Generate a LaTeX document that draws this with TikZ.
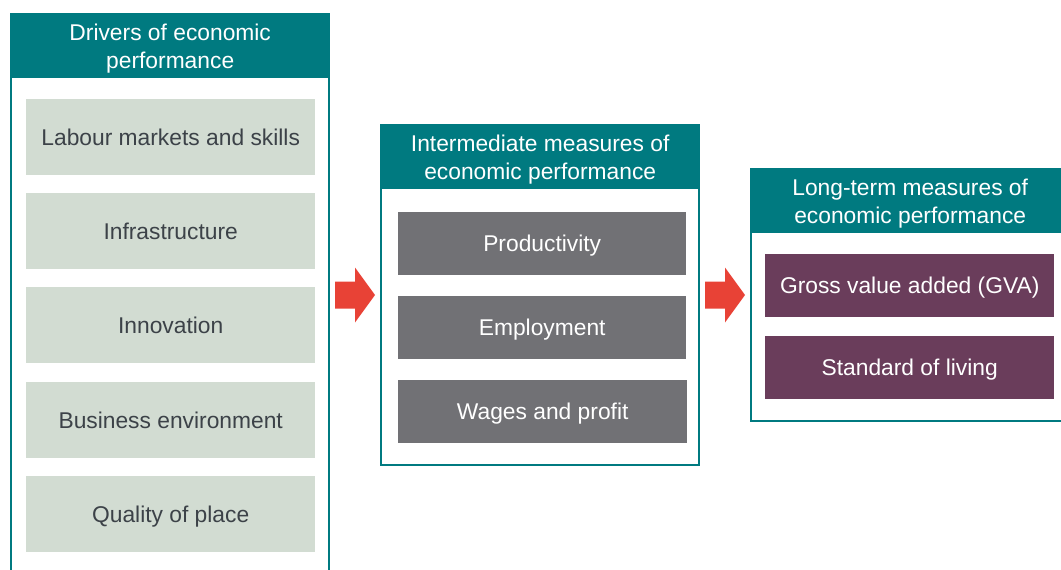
\documentclass[tikz,border=0pt]{standalone}
\usepackage{fontspec}
\setmainfont{Liberation Sans}
\definecolor{hdrteal}{HTML}{007A80}
\definecolor{sage}{HTML}{D2DCD2}
\definecolor{darktext}{HTML}{3C4248}
\definecolor{midgray}{HTML}{717175}
\definecolor{plum}{HTML}{6A3D5B}
\definecolor{arrowred}{HTML}{E84236}
\tikzset{
  lbl/.style={font=\fontsize{22.8}{28}\selectfont, text depth=0pt},
  frame/.style={draw=hdrteal, line width=2pt, fill=white},
  header/.style={lbl, fill=hdrteal, text=white, anchor=north west, inner sep=0pt, align=center, minimum width=318pt, minimum height=64pt},
  drvbox/.style={lbl, fill=sage, text=darktext, anchor=north west, inner sep=0pt, minimum width=289pt, minimum height=76pt},
  midbox/.style={lbl, fill=midgray, text=white, anchor=north west, inner sep=0pt, minimum width=288pt, minimum height=63pt},
  ltbox/.style={lbl, fill=plum, text=white, anchor=north west, inner sep=0pt, minimum width=289pt, minimum height=63pt},
  bigarrow/.style={fill=arrowred}
}
\begin{document}
\begin{tikzpicture}[x=1pt,y=-1pt]
\useasboundingbox (0,0) rectangle (1061,570);
\clip (0,0) rectangle (1061,570);
% panels
\draw[frame] (11,14) rectangle (329,610);
\draw[frame] (381,125) rectangle (699,465);
\draw[frame] (751,169) rectangle (1069,421);
\node[header] (h1) at (11,14) {Drivers of economic\\performance};
\node[header] (h2) at (381,125) {Intermediate measures of\\economic performance};
\node[header] (h3) at (751,169) {Long-term measures of\\economic performance};
% drivers
\node[drvbox] (d1) at (26,99) {Labour markets and skills};
\node[drvbox] (d2) at (26,193) {Infrastructure};
\node[drvbox] (d3) at (26,287) {Innovation};
\node[drvbox] (d4) at (26,382) {Business environment};
\node[drvbox] (d5) at (26,476) {Quality of place};
% intermediate
\node[midbox] (m1) at (398,212) {Productivity};
\node[midbox] (m2) at (398,296) {Employment};
\node[midbox, minimum width=289pt] (m3) at (398,380) {Wages and profit};
% long-term
\node[ltbox] (l1) at (765,254) {Gross value added (GVA)};
\node[ltbox] (l2) at (765,336) {Standard of living};
% arrows
\coordinate (a1) at (335,295);
\coordinate (a2) at (705,295);
\foreach \a in {a1,a2}{
  \fill[bigarrow] (\a) ++(0,-13.5) -- ++(20,0) -- ++(0,-14) -- ++(20,27.5) -- ++(-20,27.5) -- ++(0,-14) -- ++(-20,0) -- cycle;
}
\end{tikzpicture}
\end{document}
